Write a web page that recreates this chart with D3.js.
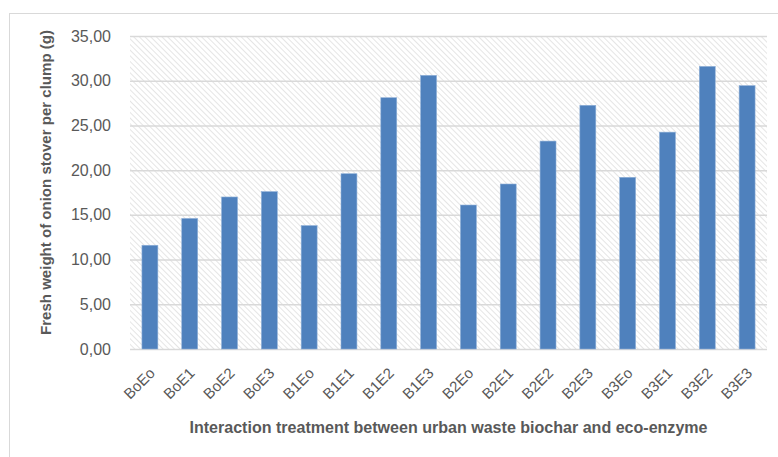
<!DOCTYPE html>
<html>
<head>
<meta charset="utf-8">
<script src="https://cdn.jsdelivr.net/npm/d3@7"></script>
<style>
  body { margin: 0; background: #fff; }
  svg { display: block; }
</style>
</head>
<body>
<div id="chart"></div>
<script>
const fig_width = 778
const fig_height = 457

// treatments and fresh weight (g)
const treatments = ['BoEo', 'BoE1', 'BoE2', 'BoE3', 'B1Eo', 'B1E1', 'B1E2', 'B1E3',
                    'B2Eo', 'B2E1', 'B2E2', 'B2E3', 'B3Eo', 'B3E1', 'B3E2', 'B3E3']
const fresh_weight = [11.6, 14.6, 17.0, 17.6, 13.8, 19.6, 28.1, 30.6,
                      16.1, 18.45, 23.25, 27.25, 19.2, 24.25, 31.6, 29.45]
const y_ticks = [0, 5, 10, 15, 20, 25, 30, 35]

const y_title = 'Fresh weight of onion stover per clump (g)'
const x_title = 'Interaction treatment between urban waste biochar and eco-enzyme'

const plot = {left: 130, right: 767, top: 36, bottom: 349}

let fig = d3.select('#chart')
    .append('svg')
    .attr('width', fig_width)
    .attr('height', fig_height)

// diagonal hatch used as plot background ("\" direction)
let defs = fig.append('defs')
defs.append('pattern')
    .attr('id', 'hatch')
    .attr('patternUnits', 'userSpaceOnUse')
    .attr('width', 4)
    .attr('height', 4)
    .attr('patternTransform', 'rotate(-45)')
  .append('line')
    .attr('x1', 0).attr('y1', 0)
    .attr('x2', 0).attr('y2', 4)
    .attr('stroke', '#d4d4d4')
    .attr('stroke-width', 1.2)

// outer chart frame (runs off the right and bottom edge)
fig.append('rect')
    .attr('x', 9.5).attr('y', 13.5)
    .attr('width', 820).attr('height', 500)
    .attr('fill', 'none')
    .attr('stroke', '#d9d9d9')
    .attr('stroke-width', 1)

let x = d3.scaleBand()
    .domain(treatments)
    .range([plot.left, plot.right])
    .paddingInner(0.6)
    .paddingOuter(0.3)

let y = d3.scaleLinear()
    .domain([0, 35])
    .range([plot.bottom, plot.top])

fig.append('rect')
    .attr('x', plot.left).attr('y', plot.top)
    .attr('width', plot.right - plot.left)
    .attr('height', plot.bottom - plot.top)
    .attr('fill', 'url(#hatch)')

// gridlines + y labels
let fmt = v => d3.format('.2f')(v).replace('.', ',')
let yAxis = fig.append('g')
    .attr('transform', `translate(${plot.left},0)`)
    .call(d3.axisLeft(y).tickValues(y_ticks).tickSize(-(plot.right - plot.left)).tickPadding(19).tickFormat(fmt))
yAxis.select('.domain').remove()
yAxis.selectAll('.tick line')
    .attr('stroke', '#d9d9d9')
    .attr('stroke-width', 1.5)
yAxis.selectAll('.tick text')
    .attr('fill', '#595959')
    .style('font-family', '"Liberation Sans", Arial, sans-serif')
    .style('font-size', '16px')

fig.selectAll('rect.bar')
    .data(treatments)
    .join('rect')
    .attr('class', 'bar')
    .attr('x', d => x(d))
    .attr('width', x.bandwidth())
    .attr('y', (d, i) => y(fresh_weight[i]))
    .attr('height', (d, i) => y(0) - y(fresh_weight[i]))
    .attr('fill', '#4f81bd')
    .attr('stroke', '#8fb0d8')
    .attr('stroke-width', 0.6)

// x tick labels, rotated
let xAxis = fig.append('g')
    .attr('transform', `translate(0,${plot.bottom})`)
    .call(d3.axisBottom(x).tickSize(0).tickPadding(0))
xAxis.select('.domain').remove()
xAxis.selectAll('.tick text')
    .attr('fill', '#595959')
    .style('font-family', '"Liberation Sans", Arial, sans-serif')
    .style('font-size', '15px')
    .attr('text-anchor', 'end')
    .attr('dy', 0)
    .attr('transform', 'translate(6,25) rotate(-45)')

fig.append('text')
    .attr('transform', `translate(51,${(plot.top + plot.bottom) / 2 - 10}) rotate(-90)`)
    .attr('text-anchor', 'middle')
    .attr('fill', '#595959')
    .style('font-family', '"Liberation Sans Narrow", "Liberation Sans", Arial, sans-serif')
    .style('font-weight', 'bold')
    .style('font-size', '14px')
    .attr('textLength', 305)
    .attr('lengthAdjust', 'spacingAndGlyphs')
    .text(y_title)

fig.append('text')
    .attr('x', (plot.left + plot.right) / 2)
    .attr('y', 433)
    .attr('text-anchor', 'middle')
    .attr('fill', '#595959')
    .style('font-family', '"Liberation Sans Narrow", "Liberation Sans", Arial, sans-serif')
    .style('font-weight', 'bold')
    .style('font-size', '16px')
    .attr('textLength', 518)
    .attr('lengthAdjust', 'spacingAndGlyphs')
    .text(x_title)
</script>
</body>
</html>
